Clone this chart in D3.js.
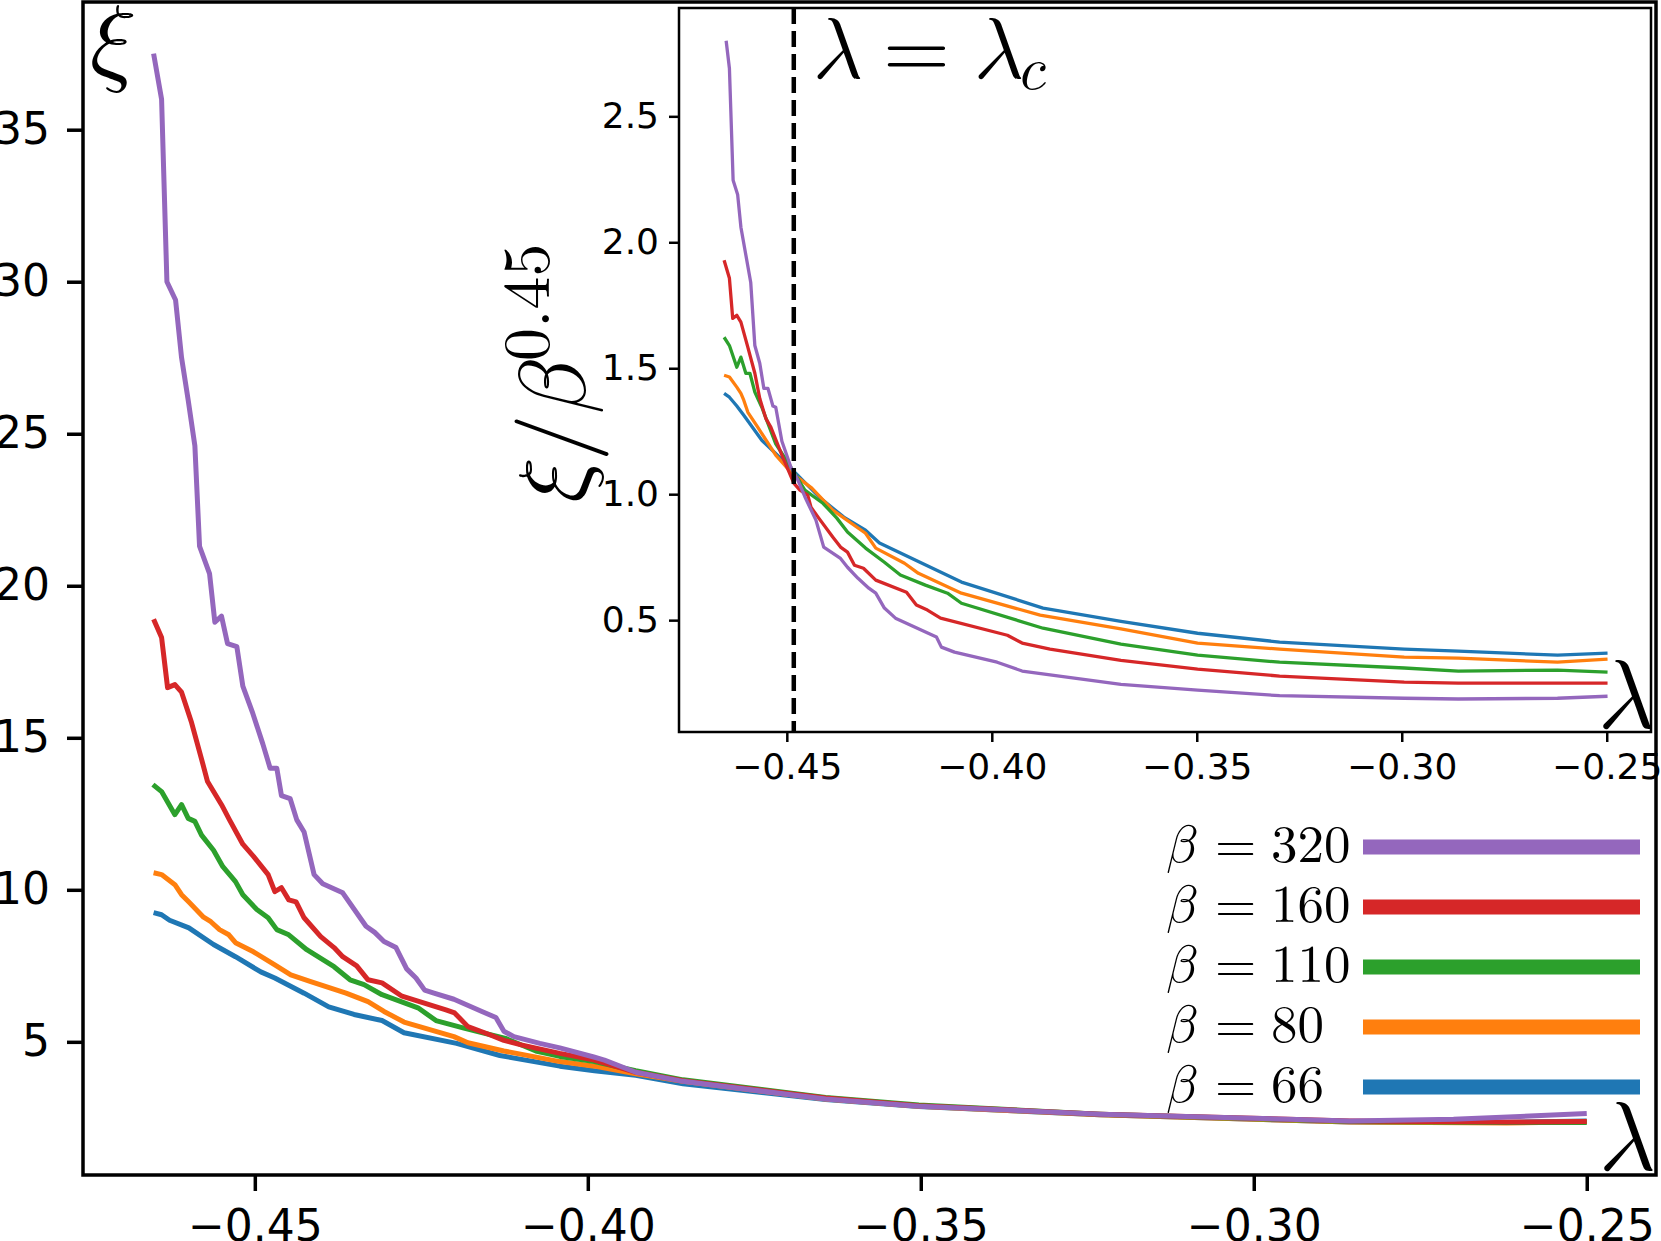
<!DOCTYPE html>
<html>
<head>
<meta charset="utf-8">
<script src="https://cdn.jsdelivr.net/npm/d3@7"></script>
<style>
  body { margin: 0; background: #fff; }
  svg { display: block; }
</style>
</head>
<body>
<svg id="chart" width="1661" height="1241"></svg>
<script>
// beta values and their colours (drawn from smallest to largest)
let betas = [66, 80, 110, 160, 320];
let colors = ["#1f77b4", "#ff7f0e", "#2ca02c", "#d62728", "#9467bd"];

let xTicks = [-0.45, -0.4, -0.35, -0.3, -0.25];
let yTicks = [5, 10, 15, 20, 25, 30, 35];
let insetYTicks = [0.5, 1.0, 1.5, 2.0, 2.5];
let lambdaC = -0.4483;

// main panel: [lambda, xi]
let xi66 = [[-0.4652, 9.25], [-0.464, 9.18], [-0.4628, 9.0], [-0.4599, 8.75], [-0.4562, 8.2], [-0.4529, 7.8], [-0.4491, 7.3], [-0.447, 7.1], [-0.4426, 6.6], [-0.4389, 6.15], [-0.4351, 5.9], [-0.4309, 5.7], [-0.4276, 5.3], [-0.4197, 4.95], [-0.4132, 4.55], [-0.4042, 4.2], [-0.399, 4.05], [-0.3928, 3.9], [-0.3857, 3.62], [-0.3643, 3.1], [-0.3503, 2.87], [-0.3231, 2.6], [-0.2856, 2.36], [-0.262, 2.35], [-0.25, 2.4]];
let xi80 = [[-0.4652, 10.56], [-0.464, 10.5], [-0.462, 10.17], [-0.461, 9.84], [-0.4599, 9.6], [-0.4577, 9.1], [-0.4566, 8.95], [-0.4553, 8.69], [-0.4539, 8.52], [-0.4529, 8.26], [-0.4502, 7.96], [-0.447, 7.53], [-0.4446, 7.2], [-0.4416, 6.98], [-0.4363, 6.6], [-0.433, 6.32], [-0.4306, 6.0], [-0.4276, 5.65], [-0.4201, 5.17], [-0.418, 4.97], [-0.4126, 4.7], [-0.4042, 4.35], [-0.399, 4.2], [-0.3928, 3.95], [-0.3857, 3.7], [-0.3643, 3.12], [-0.3503, 2.88], [-0.3231, 2.6], [-0.2856, 2.36], [-0.262, 2.33], [-0.25, 2.37]];
let xi110 = [[-0.4653, 13.46], [-0.464, 13.23], [-0.462, 12.47], [-0.461, 12.8], [-0.46, 12.35], [-0.459, 12.25], [-0.458, 11.8], [-0.4562, 11.3], [-0.4548, 10.76], [-0.4529, 10.27], [-0.4518, 9.84], [-0.4497, 9.35], [-0.448, 9.08], [-0.4467, 8.69], [-0.4449, 8.52], [-0.4422, 8.03], [-0.4381, 7.47], [-0.4357, 7.04], [-0.4336, 6.88], [-0.4309, 6.55], [-0.4255, 6.12], [-0.4228, 5.7], [-0.4186, 5.45], [-0.4122, 5.1], [-0.4078, 4.7], [-0.4042, 4.52], [-0.399, 4.35], [-0.3928, 4.05], [-0.3857, 3.75], [-0.3643, 3.17], [-0.3503, 2.92], [-0.3231, 2.62], [-0.2856, 2.38], [-0.262, 2.35], [-0.25, 2.35]];
let xi160 = [[-0.4652, 18.9], [-0.464, 18.3], [-0.4631, 16.65], [-0.462, 16.75], [-0.461, 16.5], [-0.4595, 15.5], [-0.458, 14.3], [-0.4571, 13.56], [-0.455, 12.8], [-0.4538, 12.3], [-0.4518, 11.5], [-0.4502, 11.1], [-0.448, 10.5], [-0.447, 9.94], [-0.446, 10.07], [-0.4449, 9.67], [-0.4438, 9.6], [-0.4426, 9.08], [-0.4401, 8.46], [-0.4381, 8.1], [-0.4368, 7.8], [-0.4347, 7.5], [-0.433, 7.04], [-0.4309, 6.94], [-0.4279, 6.5], [-0.4213, 6.05], [-0.42, 5.95], [-0.418, 5.5], [-0.4149, 5.25], [-0.4126, 5.05], [-0.41, 4.9], [-0.4042, 4.62], [-0.399, 4.4], [-0.3928, 4.0], [-0.3857, 3.72], [-0.3643, 3.15], [-0.3503, 2.9], [-0.3231, 2.62], [-0.2856, 2.4], [-0.262, 2.36], [-0.25, 2.38]];
let xi320 = [[-0.4652, 37.5], [-0.464, 36.0], [-0.4632, 30.0], [-0.4619, 29.4], [-0.461, 27.5], [-0.46, 26.1], [-0.459, 24.6], [-0.4583, 21.3], [-0.4568, 20.4], [-0.456, 18.8], [-0.455, 19.0], [-0.4541, 18.1], [-0.4527, 18.0], [-0.4518, 16.7], [-0.4503, 15.8], [-0.4488, 14.8], [-0.4477, 14.0], [-0.4467, 14.0], [-0.446, 13.1], [-0.4447, 13.0], [-0.4437, 12.3], [-0.4426, 11.9], [-0.4411, 10.5], [-0.4398, 10.2], [-0.4368, 9.9], [-0.4333, 8.8], [-0.432, 8.6], [-0.4306, 8.3], [-0.4288, 8.1], [-0.4272, 7.4], [-0.4258, 7.1], [-0.4245, 6.7], [-0.4231, 6.6], [-0.4201, 6.4], [-0.4159, 6.0], [-0.4138, 5.8], [-0.4126, 5.35], [-0.4111, 5.17], [-0.4072, 4.95], [-0.4042, 4.8], [-0.3991, 4.5], [-0.3975, 4.4], [-0.3928, 4.0], [-0.3857, 3.7], [-0.3643, 3.12], [-0.3503, 2.88], [-0.3231, 2.62], [-0.2856, 2.4], [-0.27, 2.45], [-0.25, 2.64]];

// inset: [lambda, xi / beta^0.45]
let sc66 = [[-0.4653, 1.4], [-0.464, 1.385], [-0.4622, 1.35], [-0.4605, 1.313], [-0.4561, 1.214], [-0.451, 1.135], [-0.4473, 1.075], [-0.4422, 0.99], [-0.4361, 0.909], [-0.4308, 0.857], [-0.4274, 0.806], [-0.4074, 0.651], [-0.3875, 0.548], [-0.3685, 0.495], [-0.3498, 0.448], [-0.3298, 0.413], [-0.2994, 0.385], [-0.2862, 0.377], [-0.262, 0.361], [-0.2498, 0.369]];
let sc80 = [[-0.4653, 1.472], [-0.464, 1.465], [-0.4622, 1.425], [-0.4612, 1.4], [-0.4605, 1.373], [-0.4595, 1.325], [-0.4571, 1.266], [-0.4527, 1.155], [-0.449, 1.087], [-0.4439, 1.024], [-0.4388, 0.937], [-0.4308, 0.845], [-0.4283, 0.786], [-0.4213, 0.726], [-0.4179, 0.686], [-0.4074, 0.607], [-0.3882, 0.52], [-0.3685, 0.465], [-0.3498, 0.409], [-0.3298, 0.385], [-0.2994, 0.353], [-0.2862, 0.349], [-0.262, 0.333], [-0.2498, 0.345]];
let sc110 = [[-0.4653, 1.623], [-0.464, 1.59], [-0.4622, 1.504], [-0.4612, 1.544], [-0.46, 1.48], [-0.459, 1.48], [-0.4578, 1.405], [-0.4561, 1.345], [-0.4527, 1.2], [-0.449, 1.107], [-0.4456, 1.016], [-0.4412, 0.964], [-0.4378, 0.905], [-0.4352, 0.85], [-0.4308, 0.786], [-0.4262, 0.73], [-0.4223, 0.679], [-0.4162, 0.639], [-0.4108, 0.607], [-0.4074, 0.567], [-0.3875, 0.468], [-0.3685, 0.405], [-0.3498, 0.361], [-0.3298, 0.333], [-0.2994, 0.31], [-0.2862, 0.298], [-0.262, 0.302], [-0.2498, 0.294]];
let sc160 = [[-0.4653, 1.929], [-0.464, 1.857], [-0.4632, 1.698], [-0.4622, 1.71], [-0.4612, 1.683], [-0.4595, 1.583], [-0.4578, 1.48], [-0.4566, 1.38], [-0.4551, 1.3], [-0.4539, 1.266], [-0.451, 1.147], [-0.4483, 1.044], [-0.4468, 1.016], [-0.4449, 0.996], [-0.4441, 0.948], [-0.4422, 0.905], [-0.4388, 0.83], [-0.4369, 0.79], [-0.4352, 0.77], [-0.4335, 0.718], [-0.4313, 0.706], [-0.4283, 0.659], [-0.4208, 0.611], [-0.4184, 0.56], [-0.4157, 0.54], [-0.4125, 0.508], [-0.3962, 0.44], [-0.3926, 0.409], [-0.3858, 0.385], [-0.3685, 0.34], [-0.3498, 0.306], [-0.3298, 0.278], [-0.2994, 0.254], [-0.2862, 0.25], [-0.262, 0.25], [-0.2498, 0.25]];
let sc320 = [[-0.4648, 2.8], [-0.464, 2.69], [-0.4631, 2.246], [-0.462, 2.19], [-0.4612, 2.06], [-0.4588, 1.84], [-0.4578, 1.59], [-0.4566, 1.52], [-0.4556, 1.42], [-0.4546, 1.42], [-0.4534, 1.35], [-0.4527, 1.345], [-0.4512, 1.21], [-0.449, 1.107], [-0.4473, 1.056], [-0.4456, 0.99], [-0.4429, 0.897], [-0.441, 0.79], [-0.4369, 0.745], [-0.4352, 0.71], [-0.4327, 0.667], [-0.43, 0.627], [-0.4283, 0.607], [-0.4262, 0.548], [-0.4235, 0.508], [-0.4135, 0.433], [-0.4123, 0.393], [-0.4091, 0.373], [-0.3987, 0.333], [-0.3926, 0.298], [-0.3685, 0.245], [-0.3498, 0.222], [-0.3298, 0.2], [-0.2994, 0.19], [-0.2862, 0.187], [-0.262, 0.19], [-0.2498, 0.198]];

let mainSeries = [xi66, xi80, xi110, xi160, xi320];
let insetSeries = [sc66, sc80, sc110, sc160, sc320];

// math italic letters (Latin Modern Math)
let LAMBDA = "\u{1D706}", XI = "\u{1D709}", BETA = "\u{1D6FD}", C = "\u{1D450}";
let mathFont = "'Latin Modern Math', 'Latin Modern Roman', 'Liberation Serif', serif";

let svg = d3.select("#chart");
let fmt = (d) => d3.format(".2f")(d).replace("-", "\u2212");

// ---------- main axes ----------
let box = { left: 83, top: 2, right: 1656, bottom: 1175 };
let x = d3.scaleLinear().domain([-0.4758, -0.2396]).range([box.left, box.right]);
let y = d3.scaleLinear().domain([0.62, 39.2]).range([box.bottom, box.top]);

svg.append("clipPath").attr("id", "mainClip")
  .append("rect")
  .attr("x", box.left).attr("y", box.top)
  .attr("width", box.right - box.left).attr("height", box.bottom - box.top);

let line = d3.line().x((d) => x(d[0])).y((d) => y(d[1]));
svg.append("g").attr("clip-path", "url(#mainClip)")
  .selectAll("path")
  .data(mainSeries)
  .join("path")
  .attr("fill", "none")
  .attr("stroke", (d, i) => colors[i])
  .attr("stroke-width", 5)
  .attr("stroke-linejoin", "round")
  .attr("d", line);

let gx = svg.append("g")
  .attr("transform", "translate(0," + box.bottom + ")")
  .call(d3.axisBottom(x).tickValues(xTicks).tickSize(16).tickPadding(19).tickFormat(fmt));
let gy = svg.append("g")
  .attr("transform", "translate(" + box.left + ",0)")
  .call(d3.axisLeft(y).tickValues(yTicks).tickSize(16).tickPadding(17).tickFormat(d3.format("d")));
[gx, gy].forEach((g) => {
  g.select(".domain").remove();
  g.attr("font-size", 44).attr("font-family", "DejaVu Sans");
  g.selectAll(".tick line").attr("stroke", "#000").attr("stroke-width", 3.5);
  g.selectAll(".tick text").attr("fill", "#000");
});

svg.append("rect")
  .attr("x", box.left).attr("y", box.top)
  .attr("width", box.right - box.left).attr("height", box.bottom - box.top)
  .attr("fill", "none").attr("stroke", "#000").attr("stroke-width", 3.5);

// axis symbols
svg.append("text").attr("font-family", mathFont)
  .attr("x", 90).attr("y", 73)
  .attr("font-size", 97)
  .text(XI);
svg.append("text").attr("font-family", mathFont)
  .attr("x", 1599).attr("y", 1170)
  .attr("font-size", 98)
  .text(LAMBDA);

// ---------- legend ----------
let legendOrder = [4, 3, 2, 1, 0];
let legend = svg.append("g");
legendOrder.forEach((k, i) => {
  let ly = 847 + i * 60;
  legend.append("line")
    .attr("x1", 1363).attr("x2", 1640)
    .attr("y1", ly).attr("y2", ly)
    .attr("stroke", colors[k]).attr("stroke-width", 15);
  let t = legend.append("text").attr("font-family", mathFont)
    .attr("y", ly + 15).attr("font-size", 53);
  t.append("tspan").attr("x", 1166).text(BETA);
  t.append("tspan").attr("x", 1215).text("=");
  t.append("tspan").attr("x", 1271).text(betas[k]);
});

// ---------- inset ----------
let ib = { left: 679, top: 8, right: 1651, bottom: 732 };
let ix = d3.scaleLinear().domain([-0.4763, -0.2392]).range([ib.left, ib.right]);
let iy = d3.scaleLinear().domain([0.056, 2.93]).range([ib.bottom, ib.top]);

svg.append("rect")
  .attr("x", ib.left).attr("y", ib.top)
  .attr("width", ib.right - ib.left).attr("height", ib.bottom - ib.top)
  .attr("fill", "#fff");

let iline = d3.line().x((d) => ix(d[0])).y((d) => iy(d[1]));
svg.append("g")
  .selectAll("path")
  .data(insetSeries)
  .join("path")
  .attr("fill", "none")
  .attr("stroke", (d, i) => colors[i])
  .attr("stroke-width", 3.3)
  .attr("stroke-linejoin", "round")
  .attr("d", iline);

// critical point
svg.append("line")
  .attr("x1", ix(lambdaC)).attr("x2", ix(lambdaC))
  .attr("y1", ib.top).attr("y2", ib.bottom)
  .attr("stroke", "#000").attr("stroke-width", 4.5)
  .attr("stroke-dasharray", "16,7");

let igx = svg.append("g")
  .attr("transform", "translate(0," + ib.bottom + ")")
  .call(d3.axisBottom(ix).tickValues(xTicks).tickSize(10).tickPadding(11).tickFormat(fmt));
let igy = svg.append("g")
  .attr("transform", "translate(" + ib.left + ",0)")
  .call(d3.axisLeft(iy).tickValues(insetYTicks).tickSize(10).tickPadding(10).tickFormat(d3.format(".1f")));
[igx, igy].forEach((g) => {
  g.select(".domain").remove();
  g.attr("font-size", 36).attr("font-family", "DejaVu Sans");
  g.selectAll(".tick line").attr("stroke", "#000").attr("stroke-width", 2.5);
  g.selectAll(".tick text").attr("fill", "#000");
});

svg.append("rect")
  .attr("x", ib.left).attr("y", ib.top)
  .attr("width", ib.right - ib.left).attr("height", ib.bottom - ib.top)
  .attr("fill", "none").attr("stroke", "#000").attr("stroke-width", 2.5);

// lambda = lambda_c
let lc = svg.append("text").attr("font-family", mathFont).attr("y", 78).attr("font-size", 86);
lc.append("tspan").attr("x", 813).text(LAMBDA);
lc.append("tspan").attr("x", 883).text("=");
lc.append("tspan").attr("x", 974).text(LAMBDA);
lc.append("tspan").attr("x", 1020).attr("dy", 11).attr("font-size", 60).text(C);

svg.append("text").attr("font-family", mathFont)
  .attr("x", 1598).attr("y", 728)
  .attr("font-size", 98)
  .text(LAMBDA);

// inset y label
let yl = svg.append("text").attr("font-family", mathFont)
  .attr("transform", "translate(585,373) rotate(-90)")
  .attr("text-anchor", "middle")
  .attr("font-size", 94);
yl.append("tspan").text(XI);
yl.append("tspan").text("/");
yl.append("tspan").text(BETA);
yl.append("tspan").attr("dy", -36).attr("font-size", 66).text("0.45");
</script>
</body>
</html>
